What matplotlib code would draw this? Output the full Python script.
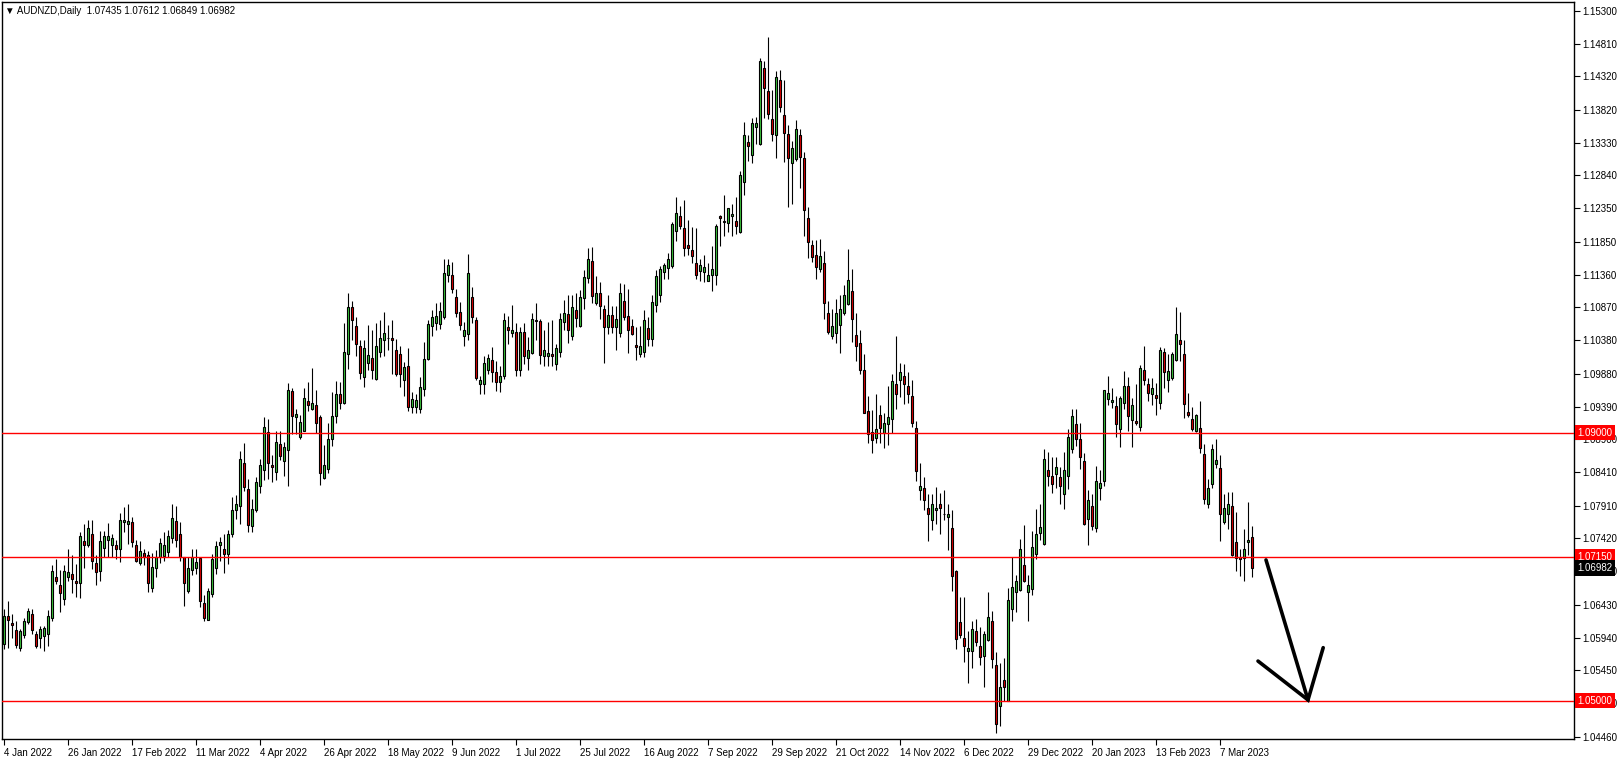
import numpy as np
import matplotlib.pyplot as plt
import matplotlib.transforms as mtransforms

# AUDNZD daily candles, 4 Jan 2022 .. 17 Mar 2023
opens = [
    1.0584, 1.0626, 1.0616, 1.0605, 1.0579, 1.0598, 1.0618, 1.0629, 1.0600, 1.0593,
    1.0596, 1.0600, 1.0623, 1.0685, 1.0673, 1.0651, 1.0684, 1.0689, 1.0678, 1.0675,
    1.0738, 1.0732, 1.0748, 1.0706, 1.0693, 1.0728, 1.0740, 1.0733, 1.0733, 1.0726,
    1.0766, 1.0763, 1.0766, 1.0733, 1.0705, 1.0720, 1.0718, 1.0668, 1.0698, 1.0715,
    1.0716, 1.0722, 1.0743, 1.0768, 1.0749, 1.0714, 1.0663, 1.0695, 1.0698, 1.0713,
    1.0646, 1.0621, 1.0659, 1.0698, 1.0732, 1.0726, 1.0719, 1.0748, 1.0785, 1.0791,
    1.0854, 1.0816, 1.0760, 1.0785, 1.0820, 1.0845, 1.0901, 1.0851, 1.0842, 1.0883,
    1.0858, 1.0874, 1.0962, 1.0923, 1.0893, 1.0903, 1.0947, 1.0936, 1.0942, 1.0924,
    1.0832, 1.0846, 1.0890, 1.0925, 1.0957, 1.0945, 1.1018, 1.1087, 1.1059, 1.1029,
    1.0983, 1.1004, 1.1012, 1.0980, 1.1021, 1.1038, 1.1041, 1.1042, 1.1024, 1.1018,
    1.0979, 1.0999, 1.0938, 1.0939, 1.0935, 1.0965, 1.1010, 1.1059, 1.1063, 1.1062,
    1.1072, 1.1136, 1.1136, 1.1102, 1.1080, 1.1044, 1.1048, 1.1102, 1.1068, 1.0972,
    1.0972, 1.0994, 1.1009, 1.0990, 1.0975, 1.0985, 1.1058, 1.1049, 1.1051, 1.0993,
    1.1051, 1.1012, 1.1019, 1.1066, 1.1066, 1.1014, 1.1014, 1.1017, 1.1003, 1.1020,
    1.1065, 1.1077, 1.1045, 1.1083, 1.1059, 1.1101, 1.1131, 1.1156, 1.1093, 1.1108,
    1.1085, 1.1058, 1.1076, 1.1058, 1.1049, 1.1096, 1.1074, 1.1059, 1.1031, 1.1018,
    1.1020, 1.1057, 1.1040, 1.1090, 1.1105, 1.1140, 1.1146, 1.1149, 1.1201, 1.1223,
    1.1205, 1.1180, 1.1172, 1.1153, 1.1141, 1.1140, 1.1127, 1.1136, 1.1136, 1.1224,
    1.1216, 1.1213, 1.1224, 1.1216, 1.1199, 1.1275, 1.1334, 1.1315, 1.1356, 1.1331,
    1.1445, 1.1410, 1.1369, 1.1345, 1.1427, 1.1374, 1.1346, 1.1303, 1.1309, 1.1345,
    1.1310, 1.1220, 1.1180, 1.1166, 1.1144, 1.1154, 1.1079, 1.1044, 1.1049, 1.1061,
    1.1078, 1.1092, 1.1111, 1.1046, 1.1034, 1.0994, 1.0933, 1.0901, 1.0892, 1.0926,
    1.0900, 1.0913, 1.0920, 1.0972, 1.0978, 1.0984, 1.0970, 1.0955, 1.0907, 1.0815,
    1.0817, 1.0787, 1.0770, 1.0785, 1.0794, 1.0779, 1.0774, 1.0757, 1.0693, 1.0618,
    1.0593, 1.0574, 1.0574, 1.0604, 1.0581, 1.0566, 1.0590, 1.0619, 1.0553, 1.0492,
    1.0531, 1.0500, 1.0637, 1.0662, 1.0665, 1.0703, 1.0662, 1.0667, 1.0719, 1.0750,
    1.0734, 1.0845, 1.0836, 1.0838, 1.0834, 1.0809, 1.0836, 1.0876, 1.0913, 1.0890,
    1.0858, 1.0771, 1.0790, 1.0758, 1.0818, 1.0828, 1.0950, 1.0946, 1.0940, 1.0905,
    1.0944, 1.0969, 1.0919, 1.0918, 1.0908, 1.0994, 1.0973, 1.0957, 1.0956, 1.0945,
    1.1021, 1.0979, 1.0981, 1.1009, 1.1039, 1.1017, 1.0931, 1.0920, 1.0902, 1.0907,
    1.0868, 1.0794, 1.0823, 1.0853, 1.0847, 1.0767, 1.0778, 1.0791, 1.0737, 1.0714,
    1.0713, 1.0737, 1.07435,
]
highs = [
    1.0637, 1.0648, 1.0629, 1.0619, 1.0607, 1.0624, 1.0638, 1.0637, 1.0604, 1.0611,
    1.0611, 1.0635, 1.0703, 1.0711, 1.0695, 1.0702, 1.0726, 1.0718, 1.0704, 1.0751,
    1.0763, 1.0769, 1.0769, 1.0717, 1.0753, 1.0753, 1.0765, 1.0749, 1.0740, 1.0780,
    1.0789, 1.0794, 1.0774, 1.0740, 1.0738, 1.0726, 1.0724, 1.0720, 1.0725, 1.0743,
    1.0752, 1.0754, 1.0794, 1.0790, 1.0766, 1.0715, 1.0714, 1.0726, 1.0726, 1.0714,
    1.0658, 1.0668, 1.0719, 1.0739, 1.0744, 1.0748, 1.0755, 1.0804, 1.0807, 1.0873,
    1.0884, 1.0831, 1.0801, 1.0834, 1.0860, 1.0924, 1.0921, 1.0866, 1.0903, 1.0903,
    1.0886, 1.0974, 1.0966, 1.0936, 1.0926, 1.0966, 1.0975, 1.0996, 1.0964, 1.0926,
    1.0881, 1.0915, 1.0960, 1.0977, 1.0975, 1.1063, 1.1109, 1.1096, 1.1073, 1.1038,
    1.1038, 1.1061, 1.1053, 1.1063, 1.1068, 1.1080, 1.1061, 1.1068, 1.1040, 1.1029,
    1.1005, 1.1026, 1.0960, 1.0958, 1.0983, 1.1035, 1.1068, 1.1083, 1.1093, 1.1095,
    1.1160, 1.1160, 1.1155, 1.1115, 1.1095, 1.1065, 1.1167, 1.1118, 1.1073, 1.0985,
    1.1014, 1.1018, 1.1028, 1.1007, 1.1000, 1.1078, 1.1074, 1.1090, 1.1063, 1.1058,
    1.1063, 1.1043, 1.1078, 1.1093, 1.1069, 1.1053, 1.1065, 1.1068, 1.1033, 1.1078,
    1.1098, 1.1105, 1.1105, 1.1108, 1.1113, 1.1143, 1.1175, 1.1177, 1.1134, 1.1125,
    1.1090, 1.1106, 1.1089, 1.1089, 1.1124, 1.1122, 1.1114, 1.1069, 1.1058, 1.1059,
    1.1083, 1.1072, 1.1105, 1.1143, 1.1149, 1.1153, 1.1168, 1.1214, 1.1252, 1.1239,
    1.1248, 1.1218, 1.1207, 1.1206, 1.1159, 1.1166, 1.1154, 1.1179, 1.1211, 1.1225,
    1.1255, 1.1236, 1.1241, 1.1252, 1.1291, 1.1364, 1.1344, 1.1370, 1.1371, 1.1460,
    1.1455, 1.1490, 1.1411, 1.1440, 1.1441, 1.1426, 1.1359, 1.1336, 1.1367, 1.1354,
    1.1319, 1.1237, 1.1188, 1.1188, 1.1189, 1.1171, 1.1096, 1.1085, 1.1099, 1.1105,
    1.1120, 1.1174, 1.1145, 1.1079, 1.1054, 1.1017, 1.0955, 1.0934, 1.0958, 1.0942,
    1.0930, 1.0969, 1.0987, 1.1044, 1.1004, 1.1003, 1.0991, 1.0978, 1.0918, 1.0855,
    1.0834, 1.0808, 1.0808, 1.0819, 1.0810, 1.0815, 1.0793, 1.0785, 1.0695, 1.0654,
    1.0655, 1.0604, 1.0619, 1.0622, 1.0610, 1.0604, 1.0662, 1.0634, 1.0573, 1.0556,
    1.0563, 1.0668, 1.0715, 1.0687, 1.0741, 1.0762, 1.0687, 1.0753, 1.0786, 1.0794,
    1.0876, 1.0871, 1.0863, 1.0864, 1.0849, 1.0871, 1.0905, 1.0935, 1.0936, 1.0915,
    1.0869, 1.0815, 1.0809, 1.0850, 1.0845, 1.0964, 1.0984, 1.0967, 1.0955, 1.0955,
    1.0992, 1.0983, 1.0952, 1.0973, 1.1001, 1.1029, 1.0981, 1.0982, 1.0974, 1.1028,
    1.1027, 1.1017, 1.1021, 1.1087, 1.1080, 1.1039, 1.0959, 1.0938, 1.0928, 1.0947,
    1.0883, 1.0831, 1.0883, 1.0890, 1.0867, 1.0809, 1.0811, 1.0811, 1.0782, 1.0726,
    1.0756, 1.0797, 1.07612,
]
lows = [
    1.0577, 1.0579, 1.0594, 1.0579, 1.0574, 1.0594, 1.0614, 1.0599, 1.0579, 1.0579,
    1.0574, 1.0582, 1.0619, 1.0674, 1.0632, 1.0642, 1.0679, 1.0660, 1.0654, 1.0653,
    1.0698, 1.0729, 1.0697, 1.0673, 1.0679, 1.0715, 1.0715, 1.0715, 1.0712, 1.0707,
    1.0752, 1.0734, 1.0729, 1.0707, 1.0702, 1.0702, 1.0662, 1.0662, 1.0684, 1.0706,
    1.0709, 1.0714, 1.0735, 1.0730, 1.0709, 1.0641, 1.0661, 1.0687, 1.0689, 1.0639,
    1.0619, 1.0621, 1.0655, 1.0689, 1.0709, 1.0690, 1.0704, 1.0744, 1.0771, 1.0763,
    1.0813, 1.0751, 1.0751, 1.0781, 1.0810, 1.0830, 1.0831, 1.0826, 1.0829, 1.0859,
    1.0836, 1.0821, 1.0898, 1.0898, 1.0891, 1.0903, 1.0932, 1.0934, 1.0900, 1.0822,
    1.0831, 1.0840, 1.0880, 1.0915, 1.0935, 1.0943, 1.0995, 1.1038, 1.1015, 1.0980,
    1.0968, 1.0993, 1.0980, 1.0978, 1.1013, 1.1015, 1.1023, 1.0988, 1.0985, 1.0968,
    1.0955, 1.0933, 1.0930, 1.0930, 1.0930, 1.0955, 1.1008, 1.1045, 1.1053, 1.1055,
    1.1070, 1.1125, 1.1108, 1.1073, 1.1053, 1.1029, 1.1038, 1.1063, 1.0978, 1.0957,
    1.0957, 1.0988, 1.0975, 1.0962, 1.0960, 1.0980, 1.1033, 1.1043, 1.0985, 1.0985,
    1.1003, 1.0993, 1.1018, 1.1038, 1.1003, 1.1000, 1.1000, 1.1000, 1.0993, 1.1013,
    1.1053, 1.1034, 1.1038, 1.1058, 1.1058, 1.1084, 1.1123, 1.1094, 1.1090, 1.1070,
    1.1004, 1.1048, 1.1049, 1.1024, 1.1043, 1.1068, 1.1019, 1.1046, 1.1008, 1.1013,
    1.1013, 1.1030, 1.1030, 1.1080, 1.1095, 1.1129, 1.1129, 1.1146, 1.1186, 1.1204,
    1.1164, 1.1166, 1.1154, 1.1129, 1.1126, 1.1125, 1.1126, 1.1111, 1.1121, 1.1179,
    1.1194, 1.1200, 1.1194, 1.1196, 1.1198, 1.1255, 1.1305, 1.1302, 1.1331, 1.1330,
    1.1370, 1.1369, 1.1336, 1.1310, 1.1379, 1.1304, 1.1237, 1.1242, 1.1306, 1.1265,
    1.1193, 1.1161, 1.1155, 1.1130, 1.1140, 1.1069, 1.1048, 1.1040, 1.1034, 1.1019,
    1.1075, 1.1090, 1.1035, 1.1007, 1.0988, 1.0929, 1.0885, 1.0869, 1.0885, 1.0885,
    1.0877, 1.0881, 1.0900, 1.0935, 1.0953, 1.0943, 1.0944, 1.0908, 1.0828, 1.0800,
    1.0785, 1.0739, 1.0754, 1.0763, 1.0748, 1.0769, 1.0725, 1.0664, 1.0577, 1.0593,
    1.0558, 1.0527, 1.0549, 1.0581, 1.0553, 1.0520, 1.0589, 1.0548, 1.0451, 1.0462,
    1.0499, 1.0499, 1.0619, 1.0632, 1.0664, 1.0677, 1.0619, 1.0657, 1.0712, 1.0740,
    1.0733, 1.0820, 1.0810, 1.0818, 1.0794, 1.0786, 1.0816, 1.0870, 1.0880, 1.0846,
    1.0762, 1.0733, 1.0754, 1.0752, 1.0799, 1.0820, 1.0942, 1.0937, 1.0894, 1.0878,
    1.0936, 1.0902, 1.0878, 1.0911, 1.0903, 1.0971, 1.0948, 1.0941, 1.0927, 1.0936,
    1.0967, 1.0961, 1.0978, 1.1007, 1.1007, 1.0922, 1.0923, 1.0903, 1.0901, 1.0870,
    1.0793, 1.0787, 1.0818, 1.0848, 1.0739, 1.0763, 1.0756, 1.0716, 1.0693, 1.0686,
    1.0679, 1.0718, 1.06849,
]
closes = [
    1.0627, 1.0620, 1.0613, 1.0583, 1.0604, 1.0619, 1.0634, 1.0605, 1.0582, 1.0607,
    1.0608, 1.0626, 1.0693, 1.0678, 1.0660, 1.0694, 1.0692, 1.0681, 1.0675, 1.0745,
    1.0732, 1.0757, 1.0709, 1.0692, 1.0739, 1.0745, 1.0745, 1.0742, 1.0726, 1.0769,
    1.0769, 1.0768, 1.0737, 1.0709, 1.0724, 1.0715, 1.0676, 1.0699, 1.0715, 1.0736,
    1.0732, 1.0746, 1.0773, 1.0740, 1.0715, 1.0676, 1.0698, 1.0714, 1.0707, 1.0649,
    1.0623, 1.0664, 1.0711, 1.0731, 1.0737, 1.0719, 1.0748, 1.0784, 1.0793, 1.0860,
    1.0819, 1.0762, 1.0786, 1.0826, 1.0851, 1.0908, 1.0855, 1.0849, 1.0886, 1.0865,
    1.0878, 1.0964, 1.0925, 1.0928, 1.0916, 1.0952, 1.0942, 1.0945, 1.0914, 1.0840,
    1.0851, 1.0890, 1.0925, 1.0957, 1.0945, 1.1021, 1.1087, 1.1068, 1.1033, 1.0989,
    1.1027, 1.1016, 1.0994, 1.1029, 1.1042, 1.1049, 1.1042, 1.1038, 1.0988, 1.0987,
    1.0998, 1.0938, 1.0950, 1.0949, 1.0968, 1.1010, 1.1062, 1.1072, 1.1074, 1.1081,
    1.1139, 1.1150, 1.1115, 1.1079, 1.1061, 1.1054, 1.1139, 1.1073, 1.0981, 1.0979,
    1.1004, 1.1012, 1.0990, 1.0975, 1.0985, 1.1068, 1.1054, 1.1054, 1.0993, 1.1051,
    1.1014, 1.1024, 1.1069, 1.1068, 1.1016, 1.1023, 1.1019, 1.1014, 1.1026, 1.1069,
    1.1079, 1.1054, 1.1087, 1.1071, 1.1103, 1.1132, 1.1160, 1.1104, 1.1108, 1.1089,
    1.1058, 1.1075, 1.1058, 1.1070, 1.1109, 1.1073, 1.1054, 1.1048, 1.1028, 1.1029,
    1.1068, 1.1040, 1.1095, 1.1134, 1.1144, 1.1150, 1.1160, 1.1211, 1.1228, 1.1209,
    1.1176, 1.1176, 1.1164, 1.1136, 1.1150, 1.1147, 1.1136, 1.1145, 1.1209, 1.1220,
    1.1215, 1.1235, 1.1226, 1.1209, 1.1285, 1.1344, 1.1328, 1.1363, 1.1363, 1.1455,
    1.1415, 1.1376, 1.1346, 1.1431, 1.1386, 1.1347, 1.1310, 1.1325, 1.1354, 1.1311,
    1.1232, 1.1185, 1.1163, 1.1148, 1.1164, 1.1094, 1.1050, 1.1059, 1.1078, 1.1084,
    1.1105, 1.1128, 1.1069, 1.1029, 1.0994, 1.0930, 1.0898, 1.0889, 1.0905, 1.0907,
    1.0914, 1.0924, 1.0977, 1.0958, 1.0990, 1.0973, 1.0958, 1.0915, 1.0843, 1.0821,
    1.0800, 1.0779, 1.0793, 1.0787, 1.0787, 1.0778, 1.0779, 1.0686, 1.0592, 1.0598,
    1.0581, 1.0579, 1.0607, 1.0588, 1.0565, 1.0599, 1.0625, 1.0562, 1.0465, 1.0521,
    1.0520, 1.0650, 1.0670, 1.0679, 1.0727, 1.0678, 1.0672, 1.0729, 1.0748, 1.0759,
    1.0860, 1.0835, 1.0824, 1.0849, 1.0820, 1.0845, 1.0894, 1.0925, 1.0891, 1.0863,
    1.0764, 1.0799, 1.0761, 1.0828, 1.0825, 1.0963, 1.0959, 1.0949, 1.0913, 1.0952,
    1.0969, 1.0925, 1.0941, 1.0914, 1.0997, 1.0979, 1.0959, 1.0966, 1.0952, 1.1024,
    1.0990, 1.0992, 1.1017, 1.1047, 1.1033, 1.0943, 1.0927, 1.0906, 1.0927, 1.0877,
    1.0801, 1.0818, 1.0876, 1.0859, 1.0778, 1.0787, 1.0793, 1.0718, 1.0713, 1.0712,
    1.0727, 1.0740, 1.06982,
]

date_labels = ["4 Jan 2022", "26 Jan 2022", "17 Feb 2022", "11 Mar 2022", "4 Apr 2022",
               "26 Apr 2022", "18 May 2022", "9 Jun 2022", "1 Jul 2022", "25 Jul 2022",
               "16 Aug 2022", "7 Sep 2022", "29 Sep 2022", "21 Oct 2022", "14 Nov 2022",
               "6 Dec 2022", "29 Dec 2022", "20 Jan 2023", "13 Feb 2023", "7 Mar 2023"]
price_ticks = [1.15300, 1.14810, 1.14320, 1.13820, 1.13330, 1.12840, 1.12350, 1.11850,
               1.11360, 1.10870, 1.10380, 1.09880, 1.09390, 1.08900, 1.08410, 1.07910,
               1.07420, 1.06930, 1.06430, 1.05940, 1.05450, 1.04960, 1.04460]
levels = [1.09000, 1.07150, 1.05000]
last_price = 1.06982

plt.rcParams['font.family'] = ['Liberation Sans', 'DejaVu Sans']

O = np.array(opens); Hh = np.array(highs); Lw = np.array(lows); C = np.array(closes)
x = np.arange(len(C))
up = C >= O

fig = plt.figure(figsize=(16.2, 7.6), dpi=100)
ax = fig.add_axes([2 / 1620, 20.7 / 760, 1572 / 1620, 737.3 / 760])

# wicks then bodies
ax.vlines(x, Lw, Hh, color='black', linewidth=0.8, zorder=2)
bot = np.minimum(O, C)
hgt = np.maximum(np.abs(C - O), 0.00002)
ax.bar(x[up], hgt[up], bottom=bot[up], width=0.5, color='#3cc83c',
       edgecolor='black', linewidth=0.8, zorder=3)
ax.bar(x[~up], hgt[~up], bottom=bot[~up], width=0.5, color='#e00000',
       edgecolor='black', linewidth=0.8, zorder=3)

for lv in levels:
    ax.axhline(lv, color='red', linewidth=1.0, zorder=4)

ax.set_xlim(-0.4, 392.6)
ax.set_ylim(1.04422, 1.1543)

# price axis on the right
ax.yaxis.tick_right()
ax.set_yticks(price_ticks)
ax.set_yticklabels([f"{v:.5f}" for v in price_ticks])
ax.tick_params(axis='y', direction='out', length=4, width=0.8, pad=2, labelsize=7)

ax.set_xticks(np.arange(len(date_labels)) * 16)
ax.set_xticklabels(date_labels, ha='left')
ax.tick_params(axis='x', direction='out', length=4, width=0.8, pad=2, labelsize=7)

for sp in ax.spines.values():
    sp.set_linewidth(1.0)
    sp.set_color('black')

# level tags and current price tag on the price scale
trans = mtransforms.blended_transform_factory(ax.transAxes, ax.transData)
for lv in levels:
    ax.text(1.0022, lv, f"{lv:.5f}", transform=trans, ha='left', va='center',
            color='white', fontsize=7, clip_on=False, zorder=10,
            bbox=dict(boxstyle='square,pad=0.28', fc='red', ec='none'))
ax.text(1.0022, last_price, f"{last_price:.5f}", transform=trans, ha='left', va='center',
        color='white', fontsize=7, clip_on=False, zorder=10,
        bbox=dict(boxstyle='square,pad=0.28', fc='black', ec='none'))

# title in the corner
ax.text(0.002, 0.994, "\u25bc AUDNZD,Daily  1.07435 1.07612 1.06849 1.06982",
        transform=ax.transAxes, ha='left', va='top', fontsize=7, color='black',
        family=['Liberation Sans', 'DejaVu Sans'])

# hand drawn down arrow
ax.plot([315.6, 326.1], [1.0710, 1.0501], color='black', linewidth=2.6,
        solid_capstyle='round', zorder=6)
ax.plot([313.6, 326.1, 329.9], [1.0559, 1.0501, 1.0579], color='black', linewidth=2.6,
        solid_capstyle='round', solid_joinstyle='miter', zorder=6)

fig.savefig("out.png", dpi=100, facecolor='white')
